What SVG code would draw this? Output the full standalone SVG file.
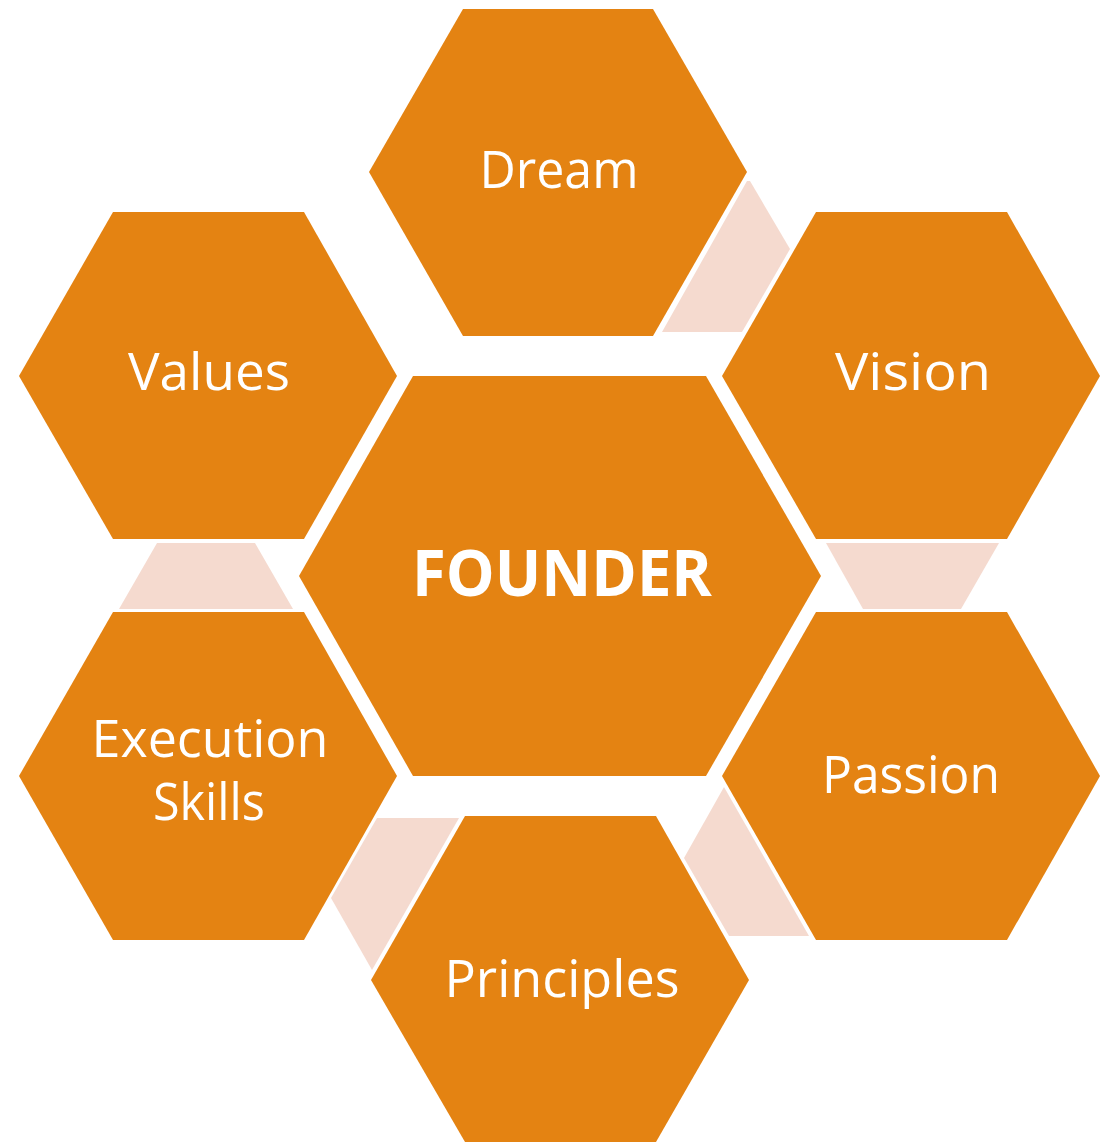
<svg xmlns="http://www.w3.org/2000/svg" width="1105" height="1142" viewBox="0 0 1105 1142">
  <style>
    .hex { fill: #E48312; }
    .link { fill: #F5DACF; }
    .lbl { font-family: "Open Sans", "Liberation Sans", sans-serif; fill: #FFFFFF; font-size: 51px; text-anchor: middle; }
    .core { font-weight: bold; font-size: 64px; }
  </style>
  <rect width="1105" height="1142" fill="#FFFFFF"/>

  <!-- light connecting bands between neighbouring hexagons -->
  <g id="connectors">
    <polygon class="link" points="747,181 750,181 790,249 742,332 662,332"/>
    <polygon class="link" points="826,543 999,543 961,609 863,609"/>
    <polygon class="link" points="724,787 809,936 729,936 684,858"/>
    <polygon class="link" points="377,818 459,818 372,970 331,898"/>
    <polygon class="link" points="157,543 255,543 293,609 119,609"/>
  </g>

  <g id="node-dream">
    <polygon class="hex" points="463,9 653,9 747,172 653,336 463,336 369,172"/>
    <text class="lbl" x="559" y="188" textLength="159" lengthAdjust="spacingAndGlyphs">Dream</text>
  </g>

  <g id="node-values">
    <polygon class="hex" points="113,212 304,212 397,376 304,539 113,539 19,376"/>
    <text class="lbl" x="209" y="390" textLength="162" lengthAdjust="spacingAndGlyphs">Values</text>
  </g>

  <g id="node-vision">
    <polygon class="hex" points="816,212 1007,212 1100,376 1007,539 816,539 722,376"/>
    <text class="lbl" x="913" y="390" textLength="156" lengthAdjust="spacingAndGlyphs">Vision</text>
  </g>

  <g id="node-founder">
    <polygon class="hex" points="413,376 706,376 821,576 706,776 413,776 299,576"/>
    <text class="lbl core" x="562" y="596" textLength="300" lengthAdjust="spacingAndGlyphs">FOUNDER</text>
  </g>

  <g id="node-execution">
    <polygon class="hex" points="113,612 304,612 397,776 304,940 113,940 19,776"/>
    <text class="lbl" x="210" y="757" textLength="237" lengthAdjust="spacingAndGlyphs">Execution</text>
    <text class="lbl" x="209" y="820" textLength="112" lengthAdjust="spacingAndGlyphs">Skills</text>
  </g>

  <g id="node-passion">
    <polygon class="hex" points="816,612 1007,612 1100,776 1007,940 816,940 722,776"/>
    <text class="lbl" x="911" y="793" textLength="178" lengthAdjust="spacingAndGlyphs">Passion</text>
  </g>

  <g id="node-principles">
    <polygon class="hex" points="465,816 656,816 749,980 656,1142 465,1142 371,980"/>
    <text class="lbl" x="562" y="997" textLength="235" lengthAdjust="spacingAndGlyphs">Principles</text>
  </g>
</svg>
